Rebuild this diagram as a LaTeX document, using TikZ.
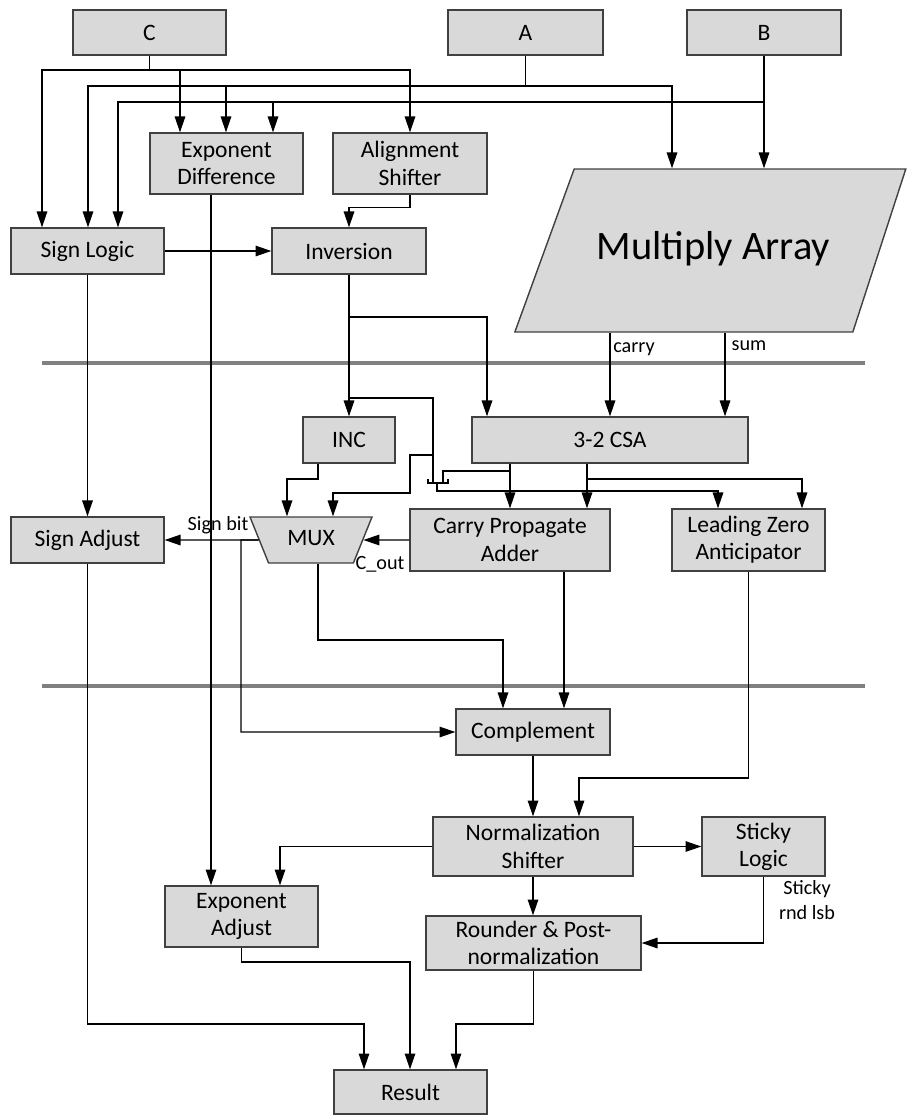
\documentclass[tikz,border=0pt]{standalone}
\usepackage{fontspec}
\setmainfont{Carlito}
\usetikzlibrary{shapes.geometric, arrows.meta, positioning}
\definecolor{boxgray}{HTML}{D9D9D9}
\definecolor{edgegray}{HTML}{404040}
\definecolor{railgray}{HTML}{808080}

\begin{document}
\begin{tikzpicture}[x=0.02cm, y=-0.02cm,
    block/.style={rectangle, draw=edgegray, fill=boxgray, line width=0.8pt, inner sep=0pt,
                  align=center, font=\fontsize{13.4}{15.5}\selectfont},
    muxbox/.style={trapezium, trapezium left angle=112, trapezium right angle=112,
                   trapezium stretches body, draw=edgegray, fill=boxgray, line width=0.8pt,
                   text height=0.32cm, text depth=0.1cm, inner xsep=0pt, inner ysep=0.25cm,
                   font=\fontsize{13.4}{15.5}\selectfont},
    arraybox/.style={trapezium, trapezium left angle=70, trapezium right angle=108,
                     trapezium stretches body, draw=edgegray, fill=boxgray, line width=0.8pt,
                     text height=0.5cm, text depth=0.16cm, inner xsep=0pt, inner ysep=1.3cm,
                     font=\fontsize{23}{26}\selectfont},
    wire/.style={line width=0.7pt},
    arrow/.style={-{Triangle[length=9pt, width=6pt]}, line width=0.7pt},
    tag/.style={font=\fontsize{11.5}{14}\selectfont, inner sep=0pt, align=center},
    stage/.style={line width=2.5pt, railgray}]

    \useasboundingbox (0,0) rectangle (909,1115);

    % Operands (top)
    \node[block, minimum width=3.06cm, minimum height=0.9cm] (C) at (149.5,32.5) {C};
    \node[block, minimum width=3.1cm, minimum height=0.9cm] (A) at (525.5,32.5) {A};
    \node[block, minimum width=3.08cm, minimum height=0.9cm] (B) at (764,32.5) {B};

    % First stage
    \node[block, minimum width=3.06cm, minimum height=1.22cm] (expdiff) at (226.5,163.5) {Exponent\\Difference};
    \node[block, minimum width=3.08cm, minimum height=1.22cm] (align) at (410,163.5) {Alignment\\Shifter};
    \node[arraybox, minimum width=7.82cm] (mult) at (713.5,250.5) {Multiply Array};
    \node[block, minimum width=3.06cm, minimum height=0.92cm] (signlogic) at (87.5,251) {Sign Logic};
    \node[block, minimum width=3.08cm, minimum height=0.92cm] (inversion) at (349,251) {Inversion};

    % Second stage
    \node[block, minimum width=1.84cm, minimum height=0.92cm] (inc) at (349,440) {INC};
    \node[block, minimum width=5.52cm, minimum height=0.92cm] (csa) at (610,440) {3-2 CSA};
    \node[muxbox, minimum width=2.44cm] (mux) at (311,540) {MUX};
    \node[block, minimum width=3.06cm, minimum height=0.92cm] (signadj) at (87.5,540) {Sign Adjust};
    \node[block, minimum width=4cm, minimum height=1.24cm] (cpa) at (510,540) {Carry Propagate\\Adder};
    \node[block, minimum width=3.06cm, minimum height=1.24cm] (lza) at (748.5,540) {Leading Zero\\Anticipator};

    % Third stage
    \node[block, minimum width=3.08cm, minimum height=0.92cm] (complement) at (533,732) {Complement};
    \node[block, minimum width=4cm, minimum height=1.18cm] (norm) at (533,846.5) {Normalization\\Shifter};
    \node[block, minimum width=2.46cm, minimum height=1.18cm] (sticky) at (763.5,846.5) {Sticky\\Logic};
    \node[block, minimum width=3.06cm, minimum height=1.22cm] (expadj) at (241.5,916.5) {Exponent\\Adjust};
    \node[block, minimum width=4.3cm, minimum height=1.08cm] (rounder) at (533.5,943) {Rounder \& Post-\\normalization};
    \node[block, minimum width=3.06cm, minimum height=0.88cm] (result) at (410.5,1092) {Result};

    % Labels
    \node[tag] (carrytag) at (634,349) {carry};
    \node[tag] (sumtag) at (749,346) {sum};
    \node[tag] (signbit) at (218,525) {Sign bit};
    \node[tag] (cout) at (380,564) {C\_out};
    \node[tag] (stickytag) at (807,900) {Sticky\\rnd lsb};

    % Pipeline stages
    \draw[stage] (42,363) -- (865,363);
    \draw[stage] (42,686) -- (865,686);

    % Operand buses
    \draw[arrow] (C.south) |- (42,70) -- (signlogic.north -| 42,0);
    \draw[arrow] (C.south) |- (180,70) -- (expdiff.north -| 180,0);
    \draw[arrow] (C.south) |- (410,70) -- (align.north);
    \draw[arrow] (A.south) |- (88,86) -- (signlogic.north -| 88,0);
    \draw[arrow] (A.south) |- (226,86) -- (expdiff.north -| 226,0);
    \draw[arrow] (A.south) |- (672,86) -- (mult.north -| 672,0);
    \draw[arrow] (B.south) |- (118,102) -- (signlogic.north -| 118,0);
    \draw[arrow] (B.south) |- (273,102) -- (expdiff.north -| 273,0);
    \draw[arrow] (B.south) -- (mult.north -| B.south);

    % First stage connections
    \draw[arrow] (align.south) -- ++(0,13) -| (inversion.north);
    \draw[arrow] (signlogic) -- (inversion);
    \draw[arrow] (signlogic) -- (signadj);
    \draw[arrow] (expdiff.south -| 211,0) -- (expadj.north -| 211,0);
    \draw[arrow] (inversion.south) |- (487,317) -- (csa.north -| 487,0);
    \draw[arrow] (inversion) -- (inc);
    \draw[arrow] (mult.south -| 610,0) -- (csa.north -| 610,0);
    \draw[arrow] (mult.south -| 725,0) -- (csa.north -| 725,0);

    % Second stage connections
    \draw[arrow] (inversion.south) |- (433,398) |- (410,455) |- (333,493) -- (mux.north -| 333,0);
    \draw[wire] (433,455) -- (433,483);
    \draw[wire] (428,479) -- (428,483) -- (448,483) -- (448,479);
    \draw[arrow] (inc.south -| 318,0) |- (287,479) -- (mux.north -| 287,0);
    \draw[arrow] (csa.south -| 510,0) -- (cpa.north -| 510,0);
    \draw[wire] (csa.south -| 510,0) |- (443,471) -- (443,483);
    \draw[arrow] (437,483) |- (718,491) -- (lza.north -| 718,0);
    \draw[arrow] (csa.south -| 587,0) -- (cpa.north -| 587,0);
    \draw[arrow] (csa.south -| 587,0) |- (802,479) -- (lza.north -| 802,0);
    \draw[arrow] (cpa) -- (mux);
    \draw[arrow] (mux) -- (signadj);

    % Third stage connections
    \draw[arrow] (mux.west) -- (241,540) |- (complement.west);
    \draw[arrow] (mux.south -| 318,0) |- (503,640) -- (complement.north -| 503,0);
    \draw[arrow] (cpa.south -| 564,0) -- (complement.north -| 564,0);
    \draw[arrow] (lza.south) |- (579,778) -- (norm.north -| 579,0);
    \draw[arrow] (complement) -- (norm);
    \draw[arrow] (norm) -- (sticky);
    \draw[arrow] (norm.west) -| (expadj.north -| 280,0);
    \draw[arrow] (norm.south) -- (rounder.north -| norm.south);
    \draw[arrow] (sticky.south) |- (rounder.east);
    \draw[arrow] (signadj.south) |- (364,1024) -- (result.north -| 364,0);
    \draw[arrow] (expadj.south) |- (410,962) -- (result.north -| 410,0);
    \draw[arrow] (rounder.south) |- (456,1024) -- (result.north -| 456,0);

\end{tikzpicture}
\end{document}
